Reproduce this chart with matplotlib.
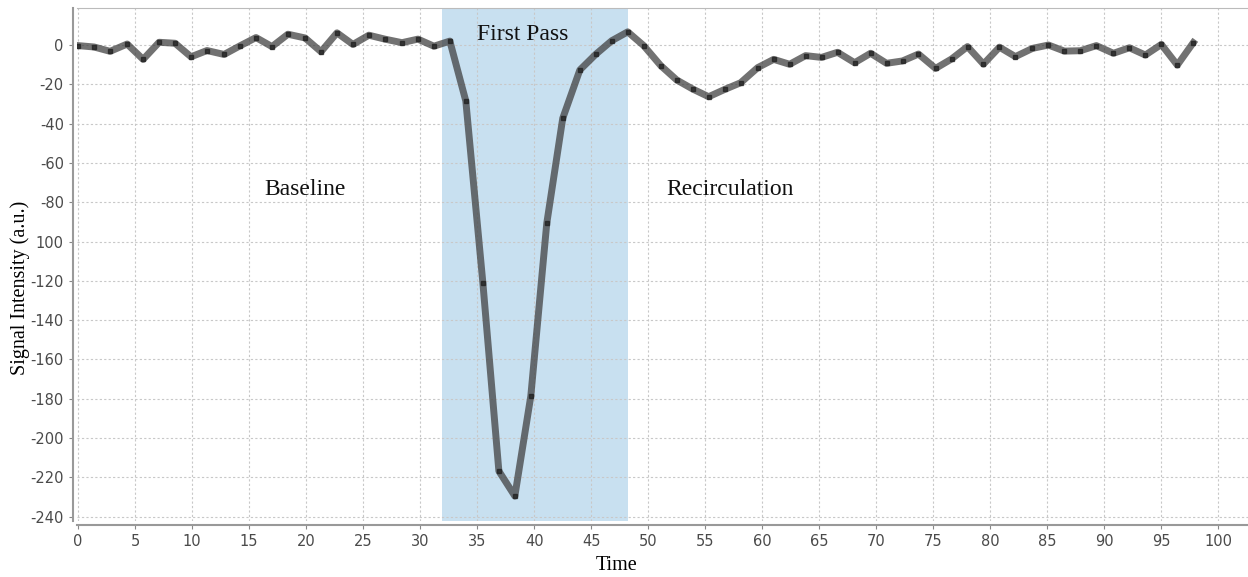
import matplotlib.pyplot as plt

# sample times (s) and signal intensity (a.u.)
time = [0.0, 1.4, 2.8, 4.3, 5.7, 7.1, 8.5, 9.9, 11.3, 12.8,
        14.2, 15.6, 17.0, 18.4, 19.9, 21.3, 22.7, 24.1, 25.5, 26.9,
        28.4, 29.8, 31.2, 32.6, 34.0, 35.5, 36.9, 38.3, 39.7, 41.1,
        42.5, 44.0, 45.4, 46.8, 48.2, 49.6, 51.1, 52.5, 53.9, 55.3,
        56.7, 58.1, 59.6, 61.0, 62.4, 63.8, 65.2, 66.6, 68.1, 69.5,
        70.9, 72.3, 73.7, 75.2, 76.6, 78.0, 79.4, 80.8, 82.2, 83.7,
        85.1, 86.5, 87.9, 89.3, 90.8, 92.2, 93.6, 95.0, 96.4, 97.8]
signal = [-0.3, -1.0, -3.2, 0.5, -7.3, 1.4, 0.9, -6.0, -2.8, -4.8,
          -0.4, 3.8, -0.8, 5.5, 3.6, -3.4, 6.2, 0.3, 5.0, 3.0,
          1.2, 3.0, -0.6, 2.0, -28.5, -121.3, -216.8, -229.5, -178.6, -90.7,
          -37.3, -12.7, -4.7, 2.2, 6.7, -0.3, -10.5, -17.8, -22.4, -26.3,
          -22.6, -19.2, -11.5, -7.3, -9.8, -5.4, -6.3, -3.7, -9.0, -4.2,
          -9.3, -8.1, -4.6, -11.9, -7.1, -0.8, -9.7, -1.1, -5.9, -1.7,
          0.0, -3.1, -2.9, -0.3, -4.2, -1.4, -5.1, 0.3, -10.2, 1.2]

first_pass = (31.9, 48.2)
phase_labels = ['Baseline', 'First Pass', 'Recirculation']
label_x = [19.9, 39.0, 57.2]
label_y = [-73.3, 5.6, -73.3]

x_ticks = list(range(0, 101, 5))
y_ticks = list(range(0, -241, -20))
y_ticklabels = ['0', '-20', '-40', '-60', '-80', '100', '-120', '-140',
                '-160', '-180', '-200', '-220', '-240']

serif = ['Liberation Serif', 'DejaVu Serif']

fig = plt.figure(figsize=(12.48, 5.77), dpi=100)
ax = fig.add_axes([0.0617, 0.097, 0.9383, 0.889])

ax.axvspan(first_pass[0], first_pass[1], color='#c8e0f0', zorder=0, lw=0)
ax.plot(time, signal, color='#3c3c3c', alpha=0.72, lw=5,
        marker='s', ms=3.5, mfc='#1e1e1e', mec='#1e1e1e', zorder=3,
        solid_joinstyle='round')

for txt, tx, ty in zip(phase_labels, label_x, label_y):
    ax.text(tx, ty, txt, ha='center', va='center', fontsize=17,
            family=serif, color='#111111')

ax.set_xlim(-0.1, 102.6)
ax.set_ylim(-242.2, 18.8)
ax.set_xticks(x_ticks)
ax.set_yticks(y_ticks)
ax.set_yticklabels(y_ticklabels)
ax.grid(True, linestyle=(0, (2, 2)), color='#c8c8c8', lw=0.8)
ax.set_axisbelow(True)

ax.tick_params(axis='both', colors='#888888', labelcolor='#4a4a4a',
               labelsize=10.5, length=3)
ax.spines['right'].set_visible(False)
ax.spines['top'].set_color('#bbbbbb')
for s in ['left', 'bottom']:
    ax.spines[s].set_color('#999999')
    ax.spines[s].set_linewidth(1.5)
    ax.spines[s].set_position(('outward', 3))

ax.set_xlabel('Time', fontsize=14.5, family=serif)
ax.set_ylabel('Signal Intensity (a.u.)', fontsize=14.5, family=serif)
ax.xaxis.set_label_coords(0.461, -0.068)
ax.yaxis.set_label_coords(-0.040, 0.454)

fig.savefig('out.png', dpi=100)
